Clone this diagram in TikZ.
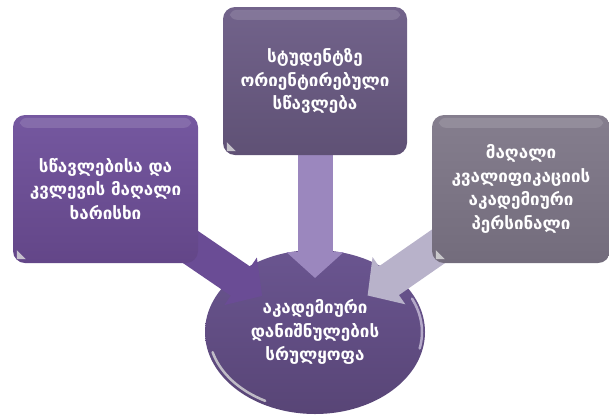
\documentclass[tikz,border=0pt]{standalone}
\usepackage{fontspec}
\setmainfont{DejaVu Sans}
\usetikzlibrary{shapes.geometric,arrows.meta,calc}
\definecolor{tboxT}{HTML}{72638B}
\definecolor{tboxB}{HTML}{5F5175}
\definecolor{lboxT}{HTML}{7558A0}
\definecolor{lboxB}{HTML}{634688}
\definecolor{rboxT}{HTML}{857E8E}
\definecolor{rboxB}{HTML}{736C7C}
\definecolor{ellT}{HTML}{6A5590}
\definecolor{ellB}{HTML}{584576}
\definecolor{arrL}{HTML}{6A4C95}
\definecolor{arrC}{HTML}{9B87BE}
\definecolor{arrR}{HTML}{B8B2CA}
\pgfdeclarelayer{fg}
\pgfsetlayers{main,fg}
\begin{document}
\begin{tikzpicture}[x=1pt,y=-1pt,
  txt/.style={text=white, font=\bfseries\fontsize{17}{23.5}\selectfont, align=center},
  box/.style={txt, rectangle, rounded corners=12pt, minimum height=148pt, inner sep=2pt},
  ellnode/.style={txt, ellipse, minimum width=220pt, minimum height=164pt, inner sep=0pt},
  bigarrow/.style={line width=35pt, -{Triangle[length=26pt 0 0, width=56pt 0 0]}},
  gloss/.style={white, opacity=0.13, rounded corners=7pt},
  rim/.style={line width=2.5pt, line cap=round}]
\useasboundingbox (0,0) rectangle (609,418);

\node[ellnode, top color=ellT, bottom color=ellB] (ell) at (315,332)
  {\makebox[0pt]{აკადემიური}\\\makebox[0pt]{დანიშნულების}\\\makebox[0pt]{სრულყოფა}};
\draw[rim, white!70!gray, opacity=0.8]
  ($(ell.center)+(118:106 and 78)$) arc[start angle=118, end angle=165, x radius=106, y radius=78];
\draw[rim, white!60!arrC, opacity=0.7]
  ($(ell.center)+(-25:107 and 79)$) arc[start angle=-25, end angle=12, x radius=107, y radius=79];

\begin{pgfonlayer}{fg}
\node[box, minimum width=184pt, text width=180pt, top color=tboxT, bottom color=tboxB] (tbox) at (315,81)
  {სტუდენტზე\\ორიენტირებული\\სწავლება};
\node[box, minimum width=185pt, text width=181pt, top color=lboxT, bottom color=lboxB] (lbox) at (105.5,189)
  {სწავლებისა და\\კვლევის მაღალი\\ხარისხი};
\node[box, minimum width=178pt, text width=174pt, top color=rboxT, bottom color=rboxB] (rbox) at (521,189)
  {მაღალი\\კვალიფიკაციის\\აკადემიური\\პერსინალი};
\foreach \b in {tbox,lbox,rbox}{
  \fill[gloss] ($(\b.north west)+(7,3)$) rectangle ($(\b.north east)+(-7,13)$);
  \fill[white!75!gray, opacity=0.8] ($(\b.south west)+(4,-4)$) -- ($(\b.south west)+(4,-13)$) -- ($(\b.south west)+(13,-4)$) -- cycle;
}
\end{pgfonlayer}

\coordinate (ltip) at ($(ell.center)!64pt!(lbox.center)$);
\coordinate (ctip) at ($(ell.center)!54pt!(tbox.center)$);
\coordinate (rtip) at ($(ell.center)!64pt!(rbox.center)$);
\draw[bigarrow, draw=arrL] (lbox.center) -- (ltip);
\draw[bigarrow, draw=arrC] (tbox.center) -- (ctip);
\draw[bigarrow, draw=arrR] (rbox.center) -- (rtip);
\end{tikzpicture}
\end{document}
